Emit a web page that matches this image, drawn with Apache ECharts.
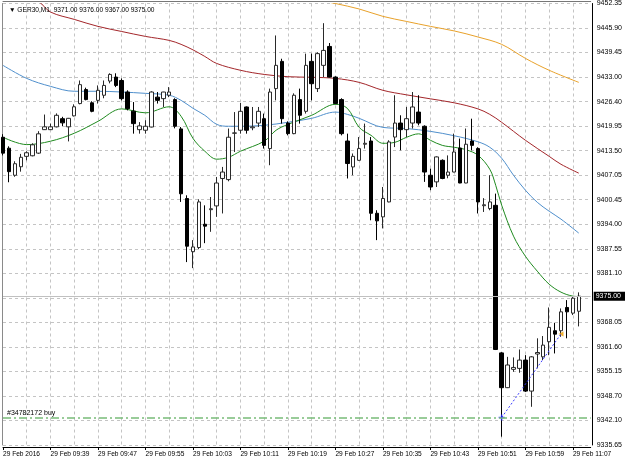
<!DOCTYPE html>
<html>
<head>
<meta charset="utf-8">
<script src="https://cdn.jsdelivr.net/npm/echarts@6/dist/echarts.min.js"></script>
<style>
html, body { margin: 0; padding: 0; background: #fff; }
#chart { width: 625px; height: 463px; }
</style>
</head>
<body>
<div id="chart"></div>
<script>
// GER30 M1, 29 Feb 2016 09:31 .. 11:08 (two empty slots after the last bar)
const times = [];
for (let m = 9 * 60 + 31; m <= 11 * 60 + 10; m++) {
  times.push(String(Math.floor(m / 60)).padStart(2, '0') + ':' + String(m % 60).padStart(2, '0'));
}

const xTickLabels = ['29 Feb 2016', '29 Feb 09:39', '29 Feb 09:47', '29 Feb 09:55', '29 Feb 10:03',
  '29 Feb 10:11', '29 Feb 10:19', '29 Feb 10:27', '29 Feb 10:35', '29 Feb 10:43',
  '29 Feb 10:51', '29 Feb 10:59', '29 Feb 11:07'];

// price ticks, bottom to top (the 6th one is hidden under the bid box)
const yTickLabels = ['9335.65', '9342.10', '9348.70', '9355.15', '9361.60', '9368.05', '',
  '9381.10', '9387.55', '9394.00', '9400.45', '9407.05', '9413.50', '9419.95',
  '9426.40', '9433.00', '9439.45', '9445.90', '9452.35'];

const open = [
  9417.0, 9414.1, 9406.95, 9409.2, 9411.95, 9412.1, 9412.8, 9419.0, 9419.0, 9419.75,
  9421.9, 9419.75, 9422.65, 9425.9, 9429.6, 9426.1, 9426.75, 9428.1, 9431.85, 9432.9,
  9432.0, 9428.95, 9423.9, 9419.0, 9418.85, 9419.7, 9427.6, 9427.2, 9428.1, 9426.95,
  9419.2, 9400.8, 9386.75, 9387.85, 9394.0, 9397.85, 9398.85, 9406.1, 9405.8, 9418.05,
  9418.85, 9425.0, 9419.5, 9420.75, 9421.9, 9414.0, 9429.85, 9437.05, 9420.75, 9417.95,
  9426.95, 9423.85, 9437.05, 9429.85, 9436.0, 9441.0, 9432.9, 9426.95, 9416.0, 9409.15,
  9410.9, 9415.15, 9416.0, 9396.9, 9395.95, 9399.9, 9417.05, 9420.75, 9419.0, 9420.75,
  9423.65, 9419.9, 9406.95, 9405.2, 9410.9, 9406.95, 9407.8, 9414.15, 9404.9, 9416.0,
  9414.0, 9398.9, 9398.15, 9399.0, 9360.0, 9350.8, 9355.65, 9355.9, 9358.1, 9349.9,
  9359.7, 9358.95, 9362.95, 9365.85, 9365.85, 9372.0, 9370.5, 9371.0];
const high = [
  9417.8, 9414.6, 9410.65, 9412.6, 9413.3, 9415.4, 9418.6, 9423.0, 9420.6, 9423.3,
  9422.4, 9422.1, 9425.7, 9432.0, 9430.1, 9426.5, 9430.7, 9432.0, 9433.9, 9433.9,
  9432.55, 9429.4, 9426.3, 9421.0, 9421.5, 9429.15, 9428.95, 9429.0, 9430.25, 9427.3,
  9419.7, 9401.65, 9389.8, 9400.6, 9399.0, 9401.2, 9406.5, 9409.15, 9419.3, 9423.65,
  9426.05, 9425.15, 9425.0, 9425.0, 9423.25, 9429.85, 9443.9, 9437.75, 9421.2, 9428.6,
  9429.85, 9439.1, 9439.1, 9439.45, 9447.15, 9441.9, 9433.1, 9427.3, 9417.95, 9412.7,
  9417.05, 9420.6, 9417.05, 9397.7, 9403.85, 9416.2, 9428.1, 9422.8, 9425.0, 9428.95,
  9428.1, 9420.15, 9408.7, 9411.95, 9411.15, 9412.2, 9417.95, 9416.65, 9419.3, 9421.9,
  9414.35, 9400.9, 9406.95, 9402.1, 9360.2, 9358.95, 9358.8, 9360.9, 9359.4, 9359.15,
  9363.85, 9364.45, 9372.0, 9367.95, 9371.75, 9373.95, 9375.0, 9376.0];
const low = [
  9412.2, 9405.1, 9406.55, 9407.9, 9410.9, 9411.95, 9412.6, 9418.95, 9418.95, 9419.6,
  9419.9, 9415.9, 9422.5, 9425.7, 9426.75, 9423.6, 9425.9, 9427.3, 9431.25, 9430.25,
  9426.75, 9424.1, 9417.95, 9417.95, 9417.95, 9419.6, 9425.9, 9425.0, 9427.6, 9419.35,
  9399.9, 9384.0, 9382.4, 9387.4, 9389.0, 9392.0, 9395.95, 9396.85, 9405.35, 9413.1,
  9417.95, 9417.95, 9418.85, 9419.7, 9414.0, 9409.6, 9426.75, 9420.6, 9417.5, 9417.8,
  9420.6, 9423.25, 9426.75, 9428.95, 9432.9, 9432.8, 9425.7, 9417.5, 9406.1, 9406.95,
  9410.8, 9414.0, 9395.05, 9389.8, 9392.9, 9399.8, 9414.4, 9413.55, 9417.05, 9419.3,
  9420.15, 9405.2, 9403.0, 9403.85, 9405.9, 9406.15, 9407.75, 9404.85, 9404.85, 9413.55,
  9396.85, 9397.25, 9397.7, 9360.75, 9337.85, 9350.7, 9355.0, 9354.75, 9349.65, 9345.75,
  9355.9, 9358.1, 9359.4, 9359.85, 9364.25, 9363.85, 9370.0, 9367.0];
const close = [
  9412.8, 9407.9, 9410.0, 9411.7, 9412.9, 9415.0, 9417.9, 9419.75, 9419.75, 9422.8,
  9420.8, 9422.0, 9425.05, 9430.9, 9426.95, 9423.85, 9429.4, 9430.7, 9433.6, 9430.7,
  9427.2, 9424.55, 9420.6, 9420.0, 9419.9, 9428.95, 9426.75, 9428.95, 9428.95, 9419.9,
  9402.05, 9388.2, 9388.0, 9399.9, 9393.5, 9398.1, 9404.9, 9407.8, 9417.0, 9418.15,
  9423.85, 9418.85, 9419.75, 9423.85, 9414.85, 9428.95, 9436.0, 9421.9, 9417.95, 9428.1,
  9422.8, 9436.0, 9431.15, 9439.1, 9439.95, 9432.9, 9425.9, 9417.95, 9410.05, 9411.95,
  9414.0, 9415.4, 9396.9, 9394.9, 9400.8, 9415.75, 9420.75, 9419.0, 9421.9, 9425.0,
  9420.75, 9407.8, 9403.85, 9411.8, 9406.1, 9407.8, 9413.1, 9404.9, 9415.15, 9414.85,
  9399.9, 9399.15, 9399.9, 9360.9, 9350.8, 9356.8, 9356.15, 9358.1, 9349.9, 9358.95,
  9360.1, 9362.05, 9366.75, 9364.95, 9370.85, 9370.85, 9374.45, 9375.0];

// moving averages: [bar index, price]
const maGreen = [[0, 9417.0], [4, 9415.05], [8, 9415.95], [12, 9418.05], [16, 9421.2], [20, 9424.5],
  [24, 9423.45], [28, 9425.05], [30, 9422.55], [32, 9416.7], [34, 9413.3], [36, 9411.2], [38, 9411.7],
  [40, 9413.3], [44, 9415.95], [46, 9418.85], [48, 9420.4], [52, 9422.8], [56, 9425.7], [58, 9424.65],
  [60, 9419.6], [62, 9417.5], [64, 9415.4], [66, 9415.65], [68, 9417.0], [70, 9417.9], [72, 9416.2],
  [74, 9414.85], [76, 9414.35], [78, 9413.7], [80, 9412.25], [82, 9408.55], [83, 9404.3], [84, 9399.05],
  [86, 9390.85], [88, 9385.55], [90, 9381.6], [92, 9378.15], [94, 9376.05], [96, 9375.0], [97, 9374.9]];
const maBlue = [[0, 9436.0], [4, 9432.55], [8, 9430.45], [12, 9429.15], [16, 9429.15], [20, 9428.95],
  [24, 9428.6], [28, 9428.1], [30, 9426.75], [32, 9424.65], [34, 9422.8], [36, 9420.4], [38, 9419.9],
  [40, 9419.9], [44, 9420.15], [48, 9420.95], [52, 9422.0], [56, 9423.65], [58, 9423.05], [60, 9422.0],
  [64, 9419.6], [68, 9419.3], [72, 9418.55], [76, 9417.4], [80, 9415.8], [82, 9414.35], [84, 9411.45],
  [86, 9406.95], [88, 9403.0], [90, 9399.8], [92, 9397.45], [94, 9395.35], [97, 9391.65]];
const maRed = [[0, 9456.35], [4, 9454.2], [6, 9452.9], [8, 9450.1], [12, 9448.15], [16, 9446.3],
  [20, 9444.95], [24, 9443.65], [28, 9442.6], [30, 9441.55], [32, 9440.1], [34, 9438.35], [36, 9436.5],
  [40, 9434.7], [44, 9433.6], [48, 9433.0], [52, 9432.85], [56, 9432.55], [60, 9431.5], [64, 9429.4],
  [68, 9428.2], [72, 9427.15], [76, 9426.1], [80, 9424.5], [82, 9423.05], [84, 9420.95], [88, 9416.2],
  [92, 9411.95], [94, 9409.85], [97, 9407.5]];
const maOrange = [[50, 9455.3], [52, 9453.95], [54, 9453.0], [56, 9452.35], [60, 9450.9], [64, 9448.95],
  [68, 9447.6], [72, 9446.3], [76, 9445.1], [80, 9443.5], [84, 9441.55], [88, 9437.85], [92, 9434.7],
  [97, 9431.5]];

const bidPrice = 9375.00;
const orderPrice = 9342.9;
const orderText = '#34782172 buy';
const tradeFrom = [84, 9342.9];
const tradeTo = [94, 9365.0];

const candles = open.map((o, i) => [o, close[i], low[i], high[i]]);

const font = 'Liberation Sans';
const gridDash = { color: '#c4c4c4', width: 1, type: [3, 3] };

const chart = echarts.init(document.getElementById('chart'));

function maLine(data, color) {
  return {
    type: 'line', data: data, smooth: 0.35, symbol: 'none', clip: true,
    lineStyle: { color: color, width: 1 }, z: 2, silent: true
  };
}

chart.setOption({
  animation: false,
  textStyle: { fontFamily: font },
  title: {
    text: '▼ GER30,M1  9371.00 9376.00 9367.00 9375.00',
    left: 4, top: 2,
    textStyle: { fontSize: 6.6, fontWeight: 'normal', color: '#000', fontFamily: font }
  },
  grid: { left: 2.6, right: 33.35, top: 3, bottom: 18 },
  xAxis: [
    {
      type: 'category', data: times, boundaryGap: false, position: 'bottom', offset: 2,
      axisLine: { lineStyle: { color: '#000', width: 1 } },
      axisTick: { interval: (i) => i % 8 === 0 && i <= 96, length: 3, lineStyle: { color: '#000' } },
      axisLabel: {
        interval: (i) => i % 8 === 0 && i <= 96,
        formatter: (v, i) => xTickLabels[i / 8],
        align: 'left', fontSize: 6.6, color: '#000', margin: 4
      },
      splitLine: { show: true, interval: (i) => i % 4 === 0 && i > 0, lineStyle: gridDash }
    },
    {
      type: 'category', data: times, boundaryGap: false, position: 'top', offset: 2,
      axisLine: { lineStyle: { color: '#777', width: 1 } },
      axisTick: { show: false }, axisLabel: { show: false }, splitLine: { show: false }
    }
  ],
  yAxis: [
    { type: 'value', min: 9335.65, max: 9452.35, position: 'right', show: false },
    {
      type: 'category', data: yTickLabels, boundaryGap: false, position: 'right', offset: 2,
      axisLine: { lineStyle: { color: '#000', width: 1 } },
      axisTick: { interval: 0, length: 3, lineStyle: { color: '#000' } },
      axisLabel: { interval: 0, fontSize: 7, color: '#000', margin: 4 },
      splitLine: { show: true, interval: 0, lineStyle: gridDash }
    },
    {
      type: 'value', min: 9335.65, max: 9452.35, position: 'left', offset: 0.6,
      axisLine: { show: true, lineStyle: { color: '#8a8a8a', width: 1 } },
      axisTick: { show: false }, axisLabel: { show: false }, splitLine: { show: false }
    }
  ],
  series: [
    maLine(maOrange, '#e8a12a'),
    maLine(maRed, '#a3262a'),
    maLine(maBlue, '#4f8fcc'),
    maLine(maGreen, '#1f8a1f'),
    {
      type: 'candlestick', data: candles, barWidth: 4, z: 3,
      itemStyle: {
        color: '#ffffff', color0: '#000000',
        borderColor: '#2a2a2a', borderColor0: '#000000', borderWidth: 1
      },
      markLine: {
        silent: true, symbol: 'none', animation: false,
        data: [
          {
            yAxis: bidPrice,
            lineStyle: { color: '#c0c0c0', width: 1, type: 'solid' },
            label: {
              show: true, position: 'end', formatter: bidPrice.toFixed(2), distance: 3,
              color: '#fff', backgroundColor: '#000', fontSize: 7, padding: [1, 6, 1, 2]
            }
          },
          {
            yAxis: orderPrice,
            lineStyle: { color: '#78bc78', width: 1.5, type: [8, 3, 2, 3] },
            label: {
              show: true, position: 'insideStartTop', formatter: orderText,
              color: '#000', fontSize: 7, distance: [4, 1]
            }
          },
          [
            { coord: tradeFrom, lineStyle: { color: '#3b3bff', width: 1, type: [2, 2] }, label: { show: false } },
            { coord: tradeTo }
          ]
        ]
      }
    },
    {
      type: 'scatter', data: [tradeFrom], z: 4, silent: true,
      symbol: 'path://M3,0h2v3h3v2h-3v3h-2v-3h-3v-2h3z', symbolSize: 6,
      itemStyle: { color: '#2424ff' }
    },
    {
      type: 'scatter', data: [tradeTo], z: 4, silent: true,
      symbol: 'triangle', symbolSize: 5, symbolRotate: 90,
      itemStyle: { color: '#f0a000' }
    }
  ]
});
</script>
</body>
</html>
